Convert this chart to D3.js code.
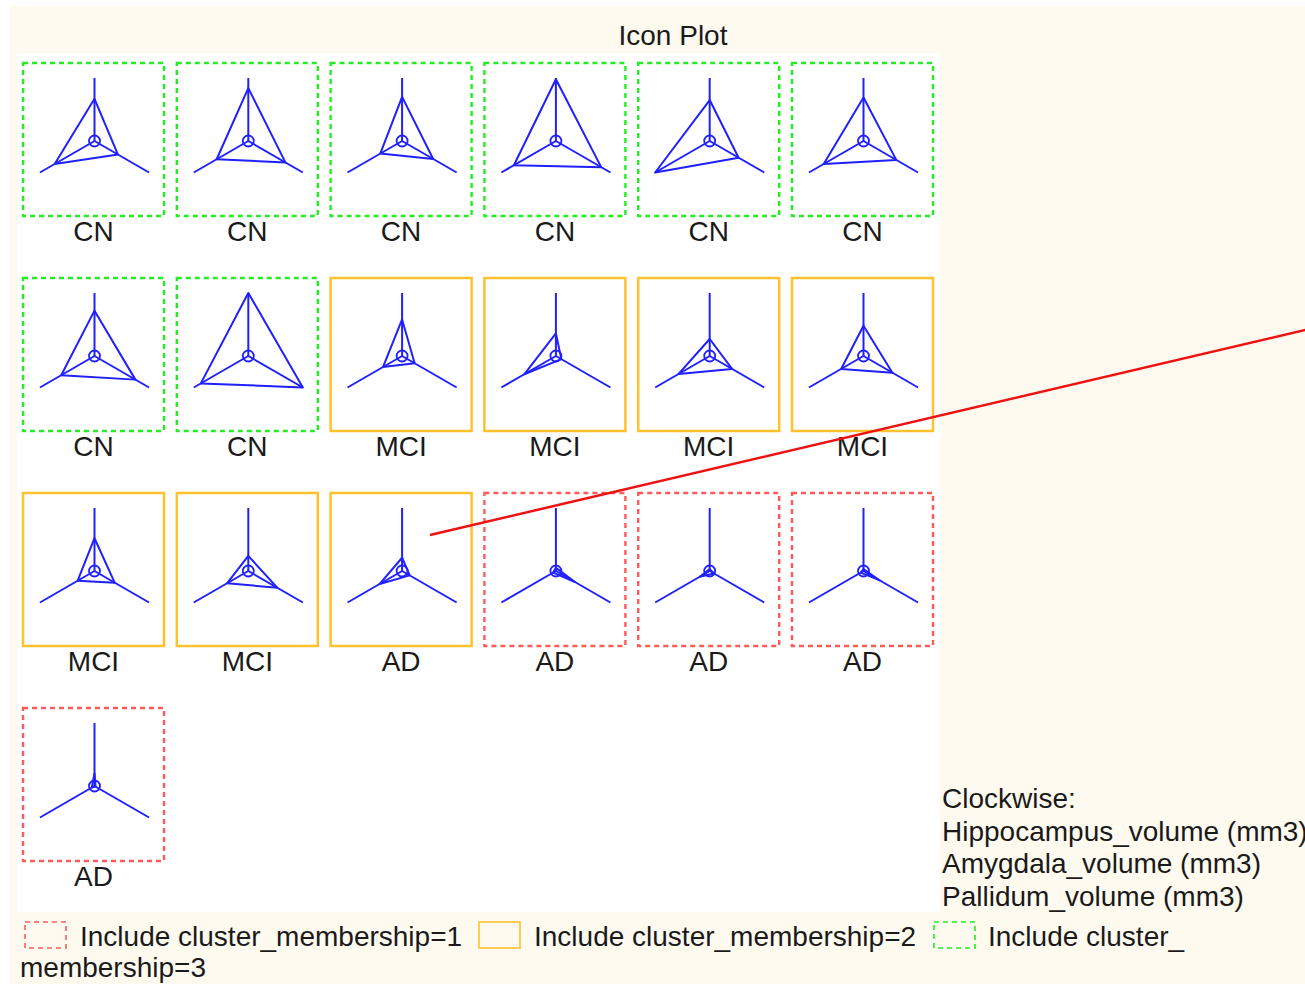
<!DOCTYPE html>
<html><head><meta charset="utf-8">
<script src="https://cdn.jsdelivr.net/npm/d3@7"></script>
<style>body{margin:0;background:#fff}svg{display:block}text{font-family:"Liberation Sans",Arial,sans-serif;fill:#1a1a1a}</style>
</head><body><div id="chart"></div>
<script>
const labels = ["CN","CN","CN","CN","CN","CN","CN","CN","MCI","MCI","MCI","MCI","MCI","MCI","AD","AD","AD","AD","AD"];
const clusters = [3,3,3,3,3,3,3,3,2,2,2,2,2,2,2,1,1,1,1];
const hippocampus = [0.67,0.84,0.70,0.98,0.65,0.69,0.72,1.00,0.58,0.36,0.27,0.48,0.52,0.24,0.21,0.05,0.03,0.03,0.20];
const amygdala    = [0.43,0.68,0.57,0.83,0.53,0.60,0.75,1.00,0.23,0.10,0.41,0.53,0.37,0.53,0.14,0.35,0.08,0.30,0.02];
const pallidum    = [0.73,0.58,0.40,0.77,1.00,0.73,0.61,0.87,0.35,0.58,0.57,0.41,0.31,0.39,0.41,0.05,0.18,0.05,0.05];
const variables = ["Hippocampus_volume (mm3)","Amygdala_volume (mm3)","Pallidum_volume (mm3)"];
const clusterIds = [1,2,3];
const title = "Icon Plot";

const W = 1305, H = 984;
const svg = d3.select("#chart").append("svg").attr("width", W).attr("height", H);
svg.append("rect").attr("x",10).attr("y",6).attr("width",W-10).attr("height",H-6).attr("fill","#fffaf0");
svg.append("rect").attr("x",17).attr("y",53).attr("width",923).attr("height",859).attr("fill","#ffffff");

svg.append("text").attr("x",673).attr("y",45).attr("text-anchor","middle")
  .style("font-size","28px").text(title);

const boxStyle = {
  1: {stroke:"#ff5a5a", dash:"5,4", width:2.4},
  2: {stroke:"#ffc22e", dash:null, width:2.5},
  3: {stroke:"#22ee22", dash:"5,4", width:2.4}
};

const nCols = 6, cellW = 153.8, cellH = 215, boxW = 141, boxH = 153;
const col = d3.scaleLinear().domain([0, nCols]).range([23, 23 + nCols*cellW]);
const row = d3.scaleLinear().domain([0, 4]).range([63, 63 + 4*cellH]);
const rScale = d3.scaleLinear().domain([0,1]).range([0,63]);
const angles = [-90, 30, 150].map(a => a*Math.PI/180); // clockwise from top

const data = labels.map((l,i)=>({label:l, cluster:clusters[i], vals:[hippocampus[i], amygdala[i], pallidum[i]], i}));

const cells = svg.selectAll("g.cell").data(data).join("g").attr("class","cell")
  .attr("transform", d => `translate(${col(d.i % nCols)},${row(Math.floor(d.i / nCols))})`);

cells.append("rect").attr("x",0).attr("y",0).attr("width",boxW).attr("height",boxH)
  .attr("fill","none")
  .attr("stroke", d => boxStyle[d.cluster].stroke)
  .attr("stroke-width", d => boxStyle[d.cluster].width)
  .attr("stroke-dasharray", d => boxStyle[d.cluster].dash);

cells.append("text").attr("x", boxW/2).attr("y", boxH+25).attr("text-anchor","middle")
  .style("font-size","28px").text(d => d.label);

const icon = cells.append("g").attr("transform", `translate(${boxW/2+1},${78})`);
icon.each(function(d){
  const g = d3.select(this);
  angles.forEach(a => {
    g.append("line").attr("x1",0).attr("y1",0)
      .attr("x2", rScale(1)*Math.cos(a)).attr("y2", rScale(1)*Math.sin(a))
      .attr("stroke","#2020ff").attr("stroke-width",2);
  });
  const pts = d.vals.map((v,k)=>[rScale(v)*Math.cos(angles[k]), rScale(v)*Math.sin(angles[k])]);
  g.append("path").attr("d", d3.line()(pts) + "Z")
    .attr("fill","none").attr("stroke","#2020ff").attr("stroke-width",2).attr("stroke-linejoin","round");
  g.append("circle").attr("r",5.5).attr("fill","none").attr("stroke","#2020ff").attr("stroke-width",1.8);
});

// Clockwise description
const desc = svg.append("text").attr("x",942).attr("y",808).style("font-size","28px");
["Clockwise:"].concat(variables).forEach((t,k)=>{
  desc.append("tspan").attr("x",942).attr("y",808 + k*32.5).text(t);
});

// Legend
const legX = [25, 479, 934];
clusterIds.forEach((c,k)=>{
  const s = boxStyle[c];
  svg.append("rect").attr("x",legX[k]).attr("y",922).attr("width",41).attr("height",26)
    .attr("fill","none").attr("stroke",s.stroke).attr("stroke-width",1.6).attr("stroke-dasharray",s.dash);
});
svg.append("text").attr("x",80).attr("y",946).style("font-size","28px").text("Include cluster_membership=1");
svg.append("text").attr("x",534).attr("y",946).style("font-size","28px").text("Include cluster_membership=2");
svg.append("text").attr("x",988).attr("y",946).style("font-size","28px").text("Include cluster_");
svg.append("text").attr("x",20).attr("y",977).style("font-size","28px").text("membership=3");

// annotation line
svg.append("line").attr("x1",430).attr("y1",535).attr("x2",1310).attr("y2",328.8)
  .attr("stroke","#ee1111").attr("stroke-width",2.5);
</script></body></html>
